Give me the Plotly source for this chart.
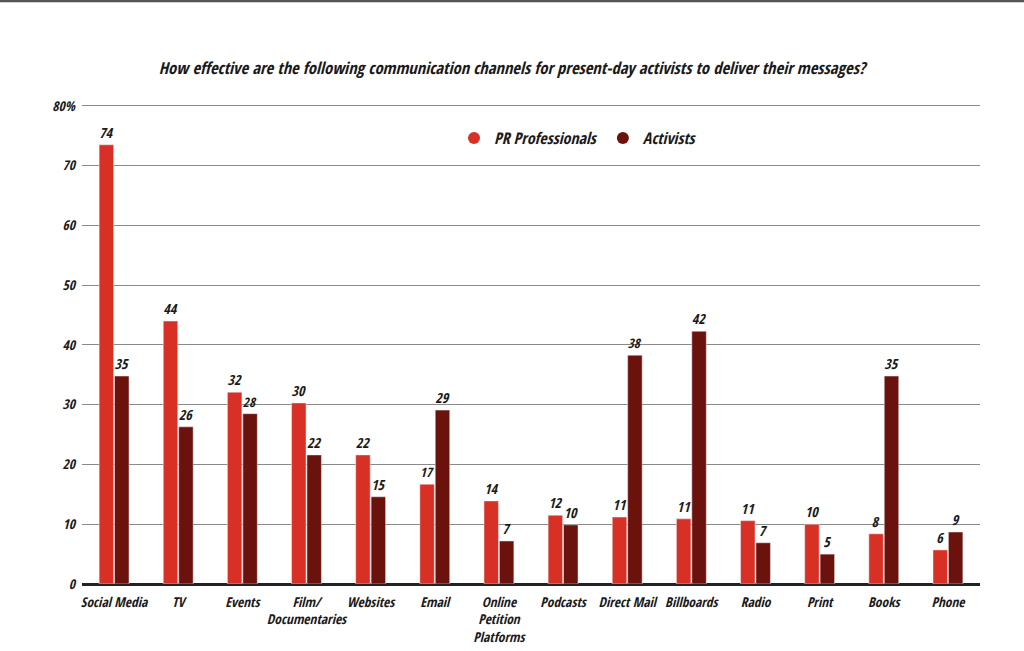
import plotly.graph_objects as go

categories = ["Social Media", "TV", "Events", "Film/<br>Documentaries", "Websites", "Email",
              "Online<br>Petition<br>Platforms", "Podcasts", "Direct Mail", "Billboards",
              "Radio", "Print", "Books", "Phone"]
pr_values = [73.5, 44.0, 32.1, 30.3, 21.6, 16.7, 13.9, 11.5, 11.2, 10.9, 10.6, 10.0, 8.4, 5.7]
activist_values = [34.8, 26.3, 28.5, 21.6, 14.6, 29.1, 7.2, 9.9, 38.3, 42.3, 6.9, 5.0, 34.8, 8.7]
pr_labels = ["74", "44", "32", "30", "22", "17", "14", "12", "11", "11", "11", "10", "8", "6"]
activist_labels = ["35", "26", "28", "22", "15", "29", "7", "10", "38", "42", "7", "5", "35", "9"]
y_ticks = [0, 10, 20, 30, 40, 50, 60, 70, 80]
y_ticktext = ["0", "10", "20", "30", "40", "50", "60", "70", "80%"]

FAM = "Open Sans Condensed, Roboto Condensed, sans-serif"
PR_COLOR = "#d93025"
ACT_COLOR = "#6b120d"
TXT = "#1a1a1a"


def fnt(size, weight=800):
    return dict(family=FAM, size=size, color=TXT, weight=weight, style="italic")


fig = go.Figure()
fig.add_trace(go.Bar(
    name="PR Professionals", x=categories, y=pr_values, text=pr_labels,
    textposition="outside", cliponaxis=False, showlegend=False,
    marker=dict(color=PR_COLOR), textfont=fnt(14),
))
fig.add_trace(go.Bar(
    name="Activists", x=categories, y=activist_values, text=activist_labels,
    textposition="outside", cliponaxis=False, showlegend=False,
    marker=dict(color=ACT_COLOR), textfont=fnt(14),
))
# legend entries with circular symbols
for nm, col in [("PR Professionals", PR_COLOR), ("Activists", ACT_COLOR)]:
    fig.add_trace(go.Scatter(
        x=[None], y=[None], mode="markers", name=nm,
        marker=dict(symbol="circle", size=16, color=col),
    ))

L, R, T, B = 82, 44, 100, 67
W, H = 1024, 651
pw = W - L - R
ph = H - T - B
YMAX = 81

fig.update_layout(
    width=W, height=H,
    margin=dict(l=L, r=R, t=T, b=B, pad=0, autoexpand=False),
    paper_bgcolor="white", plot_bgcolor="white",
    barmode="group", bargap=0.52, bargroupgap=0.06,
    font=fnt(14),
    title=dict(
        text="How effective are the following communication channels for present-day activists to deliver their messages?",
        x=0.5, xanchor="center", y=1 - 68 / H, yanchor="middle",
        font=fnt(16.6),
    ),
    legend=dict(
        orientation="h", x=(578 - L) / pw, xanchor="center",
        y=(H - B - 138) / ph, yanchor="middle",
        font=fnt(16),
        itemsizing="constant", bgcolor="rgba(0,0,0,0)",
        traceorder="normal",
    ),
    showlegend=True,
)
fig.update_xaxes(
    showgrid=False, showline=False, ticks="",
    tickfont=fnt(13.5), tickangle=0, automargin=False,
    ticklabelstandoff=8,
)
fig.update_yaxes(
    range=[0, YMAX], tickvals=y_ticks, ticktext=y_ticktext,
    showgrid=True, gridcolor="#8a8a8a", gridwidth=1,
    zeroline=True, zerolinecolor="#222", zerolinewidth=2.5,
    showline=False, ticks="", automargin=False,
    tickfont=fnt(13.5), ticklabelstandoff=6,
)

# top border line of the picture
fig.add_shape(type="line", xref="paper", yref="paper",
              x0=-L / pw, x1=1 + R / pw, y0=(H - B - 1) / ph, y1=(H - B - 1) / ph,
              line=dict(color="#555", width=2.5))

fig.write_html("out.html", config=dict(displayModeBar=False),
               post_script="document.body.style.margin='0';")
